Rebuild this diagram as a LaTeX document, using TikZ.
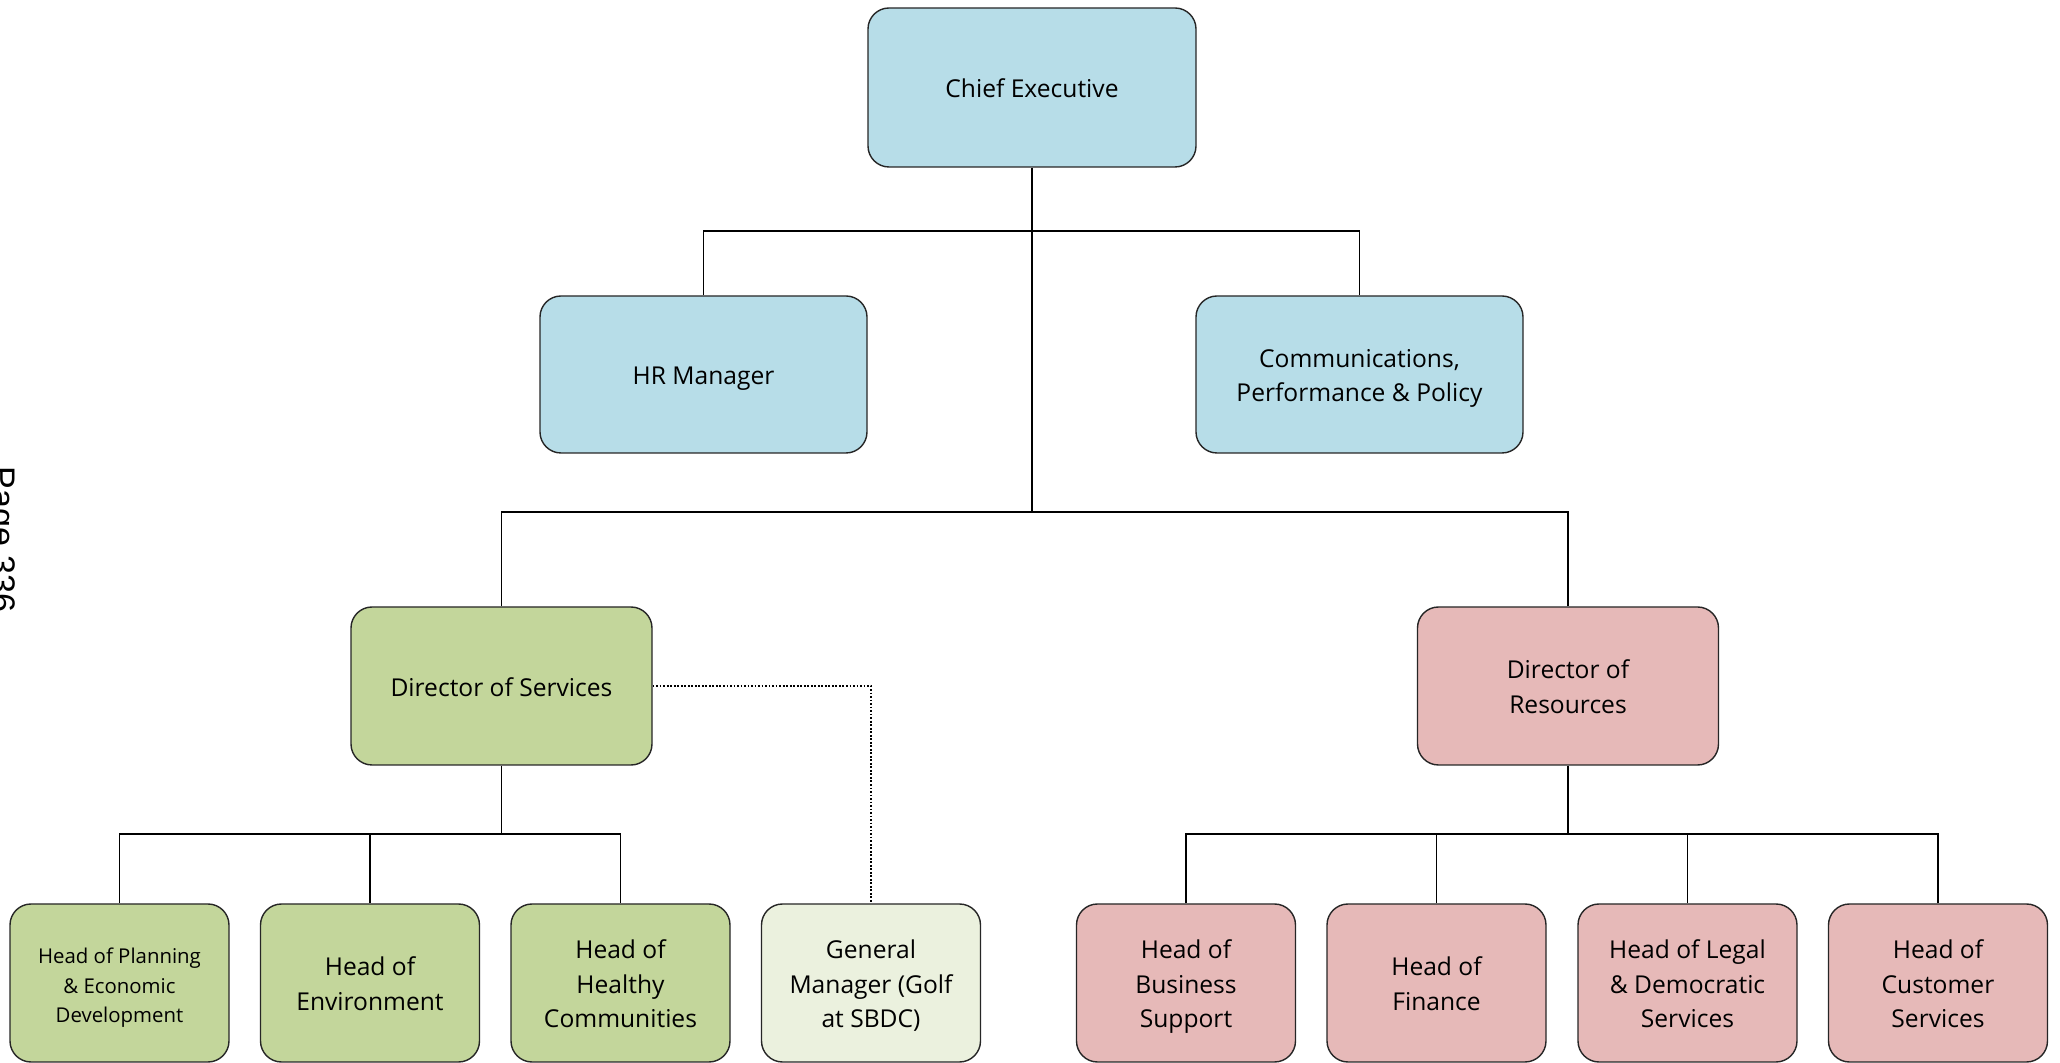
\documentclass[tikz,border=0pt]{standalone}
\usepackage{fontspec}
\setmainfont{Open Sans}
\newfontfamily\pagefont{Liberation Sans}
\usepackage{xcolor}
\definecolor{executive}{RGB}{183,221,232}
\definecolor{services}{RGB}{195,214,155}
\definecolor{golf}{RGB}{235,241,222}
\definecolor{resources}{RGB}{230,185,184}
\newcommand\lp{\rule[-1.8pt]{0pt}{9.3pt}}
\tikzstyle{post}=[rectangle, rounded corners=2.1mm, draw=black!85, line width=0.4pt, align=center, inner sep=0pt, font=\fontsize{7}{9.8}\selectfont]
\tikzset{chief/.style={minimum width=3.28cm, minimum height=1.59cm}}
\tikzset{officer/.style={minimum width=3.27cm, minimum height=1.57cm}}
\tikzset{director/.style={minimum width=3.01cm, minimum height=1.58cm}}
\tikzset{head/.style={minimum width=2.19cm, minimum height=1.58cm}}
\tikzstyle{executive}=[fill = executive]
\tikzstyle{services}=[fill = services]
\tikzstyle{golf}=[fill = golf]
\tikzstyle{resources}=[fill = resources]
\tikzset{link/.style={line width=0.5pt}}
\tikzset{dotlink/.style={line width=0.5pt, dash pattern=on 0.5pt off 0.5pt}}

\begin{document}
\begin{tikzpicture}
  \useasboundingbox (0,0) rectangle (20.6,-10.63);

  \draw (-0.09,-5.395) node[rotate=-90,anchor=base,inner sep=0pt,font=\pagefont\fontsize{9.7}{11}\selectfont] (page) {Page 336};

  \draw (10.32,-0.875) node[post,chief,executive] (CE) {\lp Chief Executive\lp};

  \draw (7.035,-3.745) node[post,officer,executive] (HR) {\lp HR Manager\lp};
  \draw (13.595,-3.745) node[post,officer,executive] (CPP) {\lp Communications,\\Performance \& Policy\lp};

  \draw (5.015,-6.86) node[post,director,services] (DS) {\lp Director of Services\lp};
  \draw (15.68,-6.86) node[post,director,resources] (DR) {\lp Director of\\Resources\lp};

  \draw (1.195,-9.83) node[post,head,services,font=\fontsize{5.8}{8.3}\selectfont] (HPED) {\lp Head of Planning\\\& Economic\\Development\lp};
  \draw (3.70,-9.83) node[post,head,services] (HE) {\lp Head of\\Environment\lp};
  \draw (6.205,-9.83) node[post,head,services] (HHC) {\lp Head of\\Healthy\\Communities\lp};
  \draw (8.71,-9.83) node[post,head,golf] (GM) {\lp General\\Manager (Golf\\at SBDC)\lp};

  \draw (11.86,-9.83) node[post,head,resources] (HBS) {\lp Head of\\Business\\Support\lp};
  \draw (14.365,-9.83) node[post,head,resources] (HF) {\lp Head of\\Finance\lp};
  \draw (16.875,-9.83) node[post,head,resources] (HLDS) {\lp Head of Legal\\\& Democratic\\Services\lp};
  \draw (19.38,-9.83) node[post,head,resources] (HCS) {\lp Head of\\Customer\\Services\lp};

  %% Junctions
  \coordinate (B1) at (10.32,-2.31);
  \coordinate (B2) at (10.32,-5.12);
  \coordinate (B3) at (5.015,-8.34);
  \coordinate (B4) at (15.68,-8.34);

  \draw[link] (CE) -- (B2);
  \draw[link] (HR.north) |- (B1);
  \draw[link] (CPP.north) |- (B1);
  \draw[link] (DS.north) |- (B2);
  \draw[link] (DR.north) |- (B2);

  \draw[link] (DS) -- (B3);
  \draw[link] (HPED.north) |- (B3);
  \draw[link] (HE.north) |- (B3);
  \draw[link] (HHC.north) |- (B3);

  \draw[link] (DR) -- (B4);
  \draw[link] (HBS.north) |- (B4);
  \draw[link] (HF.north) |- (B4);
  \draw[link] (HLDS.north) |- (B4);
  \draw[link] (HCS.north) |- (B4);

  \draw[dotlink] (DS.east) -| (GM.north);
\end{tikzpicture}
\end{document}
